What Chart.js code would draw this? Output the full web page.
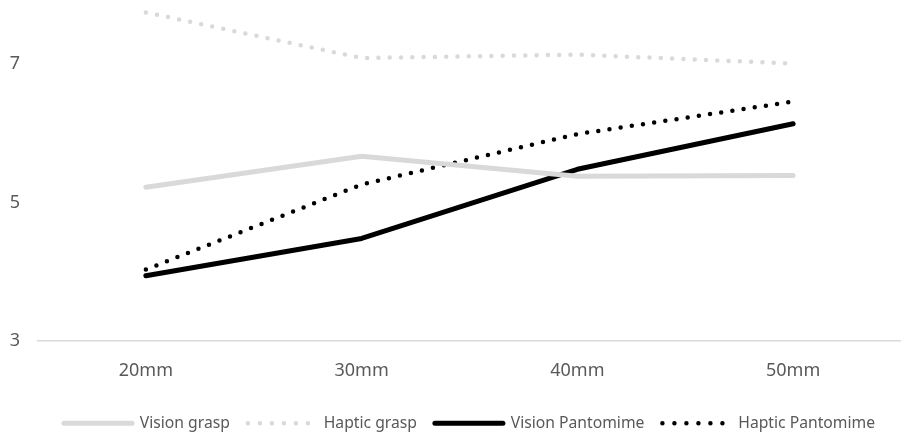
<!DOCTYPE html>
<html>
<head>
<meta charset="utf-8">
<script src="https://cdn.jsdelivr.net/npm/chart.js@4"></script>
<style>
  html, body { margin: 0; padding: 0; background: #fff; }
  #wrap { width: 901px; height: 434px; }
</style>
</head>
<body>
<div id="wrap"><canvas id="lineChart"></canvas></div>
<script>
// Chart data
const categories = ['20mm', '30mm', '40mm', '50mm'];
const visionGrasp = [5.22, 5.67, 5.38, 5.39];
const hapticGrasp = [7.75, 7.09, 7.14, 7.01];
const visionPantomime = [3.94, 4.48, 5.48, 6.14];
const hapticPantomime = [4.03, 5.26, 5.99, 6.46];
const yTicks = [3, 5, 7];

const textColor = '#595959';
const lightGray = '#d9d9d9';

Chart.defaults.font.family = "'Noto Sans', 'Open Sans', sans-serif";
Chart.defaults.color = textColor;

function series(label, data, color, dotted) {
  return {
    label: label,
    data: data,
    borderColor: color,
    backgroundColor: color,
    borderWidth: dotted ? 4.5 : 5,
    borderDash: dotted ? [0, 11.3] : [],
    borderCapStyle: 'round',
    borderJoinStyle: 'round',
    pointRadius: 0,
    pointHoverRadius: 0,
    tension: 0,
    fill: false
  };
}

// nudge the legend so it sits centred under the plot area, like the original
const legendShift = {
  id: 'legendShift',
  afterLayout(chart) {
    const lg = chart.legend;
    lg.left += 19;
    lg.right += 19;
    lg.top += 5;
    lg.bottom += 5;
  }
};

const ctx = document.getElementById('lineChart').getContext('2d');

new Chart(ctx, {
  type: 'line',
  data: {
    labels: categories,
    datasets: [
      series('Vision grasp', visionGrasp, lightGray, false),
      series('Haptic grasp', hapticGrasp, lightGray, true),
      series('Vision Pantomime', visionPantomime, '#000000', false),
      series('Haptic Pantomime', hapticPantomime, '#000000', true)
    ]
  },
  plugins: [legendShift],
  options: {
    responsive: true,
    maintainAspectRatio: false,
    animation: false,
    layout: { padding: { top: 0, right: 0, left: 0, bottom: -2 } },
    scales: {
      x: {
        offset: true,
        grid: { display: false },
        border: { display: true, color: lightGray, width: 1.5 },
        ticks: { padding: 11, font: { size: 18 }, color: textColor }
      },
      y: {
        min: 3,
        max: 7.93,
        grid: { display: false },
        border: { display: false },
        afterBuildTicks: (scale) => {
          scale.ticks = yTicks.map(v => ({ value: v }));
        },
        afterFit: (scale) => {
          scale.width = 38;
          scale.paddingTop = 0;
          scale.paddingBottom = 0;
        },
        ticks: { padding: 10, font: { size: 18 }, color: textColor }
      }
    },
    plugins: {
      legend: {
        position: 'bottom',
        labels: {
          usePointStyle: true,
          pointStyle: 'line',
          pointStyleWidth: 68,
          boxHeight: 16,
          padding: 18,
          font: { size: 15.7 },
          color: textColor,
          generateLabels: (chart) => {
            const items = Chart.defaults.plugins.legend.labels.generateLabels(chart);
            items.forEach((item) => {
              const ds = chart.data.datasets[item.datasetIndex];
              const dotted = ds.borderDash.length > 0;
              item.strokeStyle = ds.borderColor;
              item.fillStyle = ds.borderColor;
              item.lineWidth = dotted ? 4.5 : 5;
              item.lineDash = dotted ? [0, 12] : [];
              item.lineCap = 'round';
              item.pointStyle = 'line';
            });
            return items;
          }
        }
      },
      tooltip: { enabled: false }
    }
  }
});
</script>
</body>
</html>
